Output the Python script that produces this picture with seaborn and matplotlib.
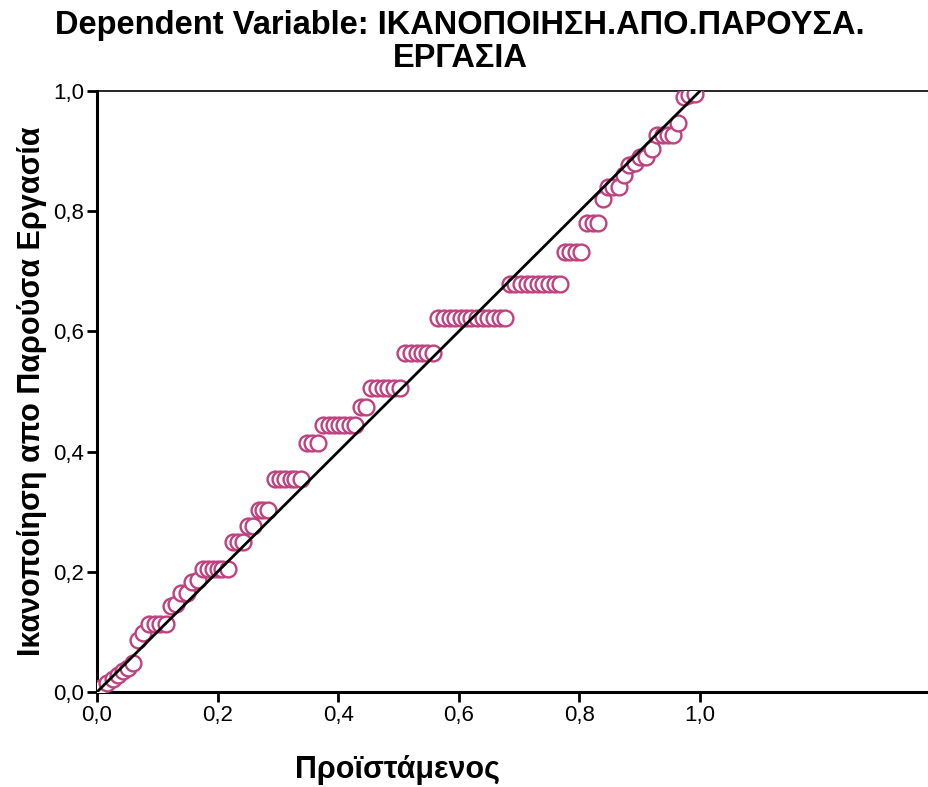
import matplotlib
matplotlib.use("Agg")
import matplotlib.pyplot as plt
import seaborn as sns
import pandas as pd

# Observed cumulative probability (x) and expected cumulative probability (y)
obs_cum_prob = [
    0.005, 0.017, 0.027, 0.035, 0.043, 0.051, 0.060,
    0.068, 0.077,
    0.087, 0.096, 0.105, 0.115,
    0.123, 0.131,
    0.140, 0.149,
    0.158, 0.167,
    0.175, 0.184, 0.192, 0.200, 0.208, 0.217,
    0.226, 0.234, 0.242,
    0.251, 0.259,
    0.268, 0.276, 0.284,
    0.295, 0.304, 0.312, 0.321, 0.329, 0.338,
    0.348, 0.357, 0.366,
    0.375, 0.384, 0.393, 0.401, 0.410, 0.419, 0.428,
    0.437, 0.446,
    0.455, 0.464, 0.474, 0.483, 0.493, 0.502,
    0.511, 0.520, 0.530, 0.539, 0.548, 0.558,
    0.566, 0.575, 0.585, 0.594, 0.603, 0.612, 0.621, 0.631, 0.640, 0.649, 0.658, 0.668, 0.677,
    0.685, 0.694, 0.703, 0.713, 0.722, 0.731, 0.740, 0.750, 0.759, 0.768,
    0.776, 0.785, 0.794, 0.803,
    0.813, 0.822, 0.831,
    0.839,
    0.848, 0.856, 0.865,
    0.874,
    0.883,
    0.892, 0.901, 0.910,
    0.920,
    0.929, 0.938, 0.947, 0.956,
    0.964,
    0.973, 0.982, 0.991,
]
exp_cum_prob = [
    0.007, 0.015, 0.022, 0.028, 0.035, 0.040, 0.048,
    0.087, 0.098,
    0.113, 0.113, 0.113, 0.113,
    0.143, 0.146,
    0.165, 0.165,
    0.183, 0.186,
    0.204, 0.204, 0.204, 0.204, 0.204, 0.204,
    0.250, 0.250, 0.250,
    0.276, 0.276,
    0.303, 0.303, 0.303,
    0.355, 0.355, 0.355, 0.355, 0.355, 0.355,
    0.414, 0.414, 0.414,
    0.444, 0.444, 0.444, 0.444, 0.444, 0.444, 0.444,
    0.474, 0.474,
    0.506, 0.506, 0.506, 0.506, 0.506, 0.506,
    0.564, 0.564, 0.564, 0.564, 0.564, 0.564,
    0.622, 0.622, 0.622, 0.622, 0.622, 0.622, 0.622, 0.622, 0.622, 0.622, 0.622, 0.622, 0.622,
    0.679, 0.679, 0.679, 0.679, 0.679, 0.679, 0.679, 0.679, 0.679, 0.679,
    0.732, 0.732, 0.732, 0.732,
    0.780, 0.780, 0.780,
    0.821,
    0.841, 0.841, 0.841,
    0.860,
    0.877,
    0.880, 0.890, 0.890,
    0.904,
    0.927, 0.927, 0.927, 0.927,
    0.947,
    0.990, 0.993, 0.995,
]

ref_x = [0.0, 1.0]
ref_y = [0.0, 1.0]
tick_vals = [0.0, 0.2, 0.4, 0.6, 0.8, 1.0]
tick_labels = ["0,0", "0,2", "0,4", "0,6", "0,8", "1,0"]

title = "Dependent Variable: ΙΚΑΝΟΠΟΙΗΣΗ.ΑΠΟ.ΠΑΡΟΥΣΑ.\nΕΡΓΑΣΙΑ"
xlabel = "Προϊστάμενος"
ylabel = "Ικανοποίηση απο Παρούσα Εργασία"

sns.set_theme(style="white")
plt.rcParams["font.family"] = ["Liberation Sans", "DejaVu Sans"]
plt.rcParams["text.color"] = "black"

df = pd.DataFrame({"x": obs_cum_prob, "y": exp_cum_prob})

fig = plt.figure(figsize=(9.29, 7.87), dpi=100)
ax = fig.add_axes([97 / 929, 95 / 787, 832 / 929, 601 / 787])

sns.scatterplot(data=df, x="x", y="y", ax=ax, marker="o", s=130,
                facecolor="white", edgecolor="#C0417F", linewidth=1.7, zorder=3)
ax.plot(ref_x, ref_y, color="black", lw=2.0, zorder=4)

ax.set_xlim(0, 832 / 603)
ax.set_ylim(0, 1.0)
ax.set_xticks(tick_vals)
ax.set_xticklabels(tick_labels)
ax.set_yticks(tick_vals)
ax.set_yticklabels(tick_labels)
ax.tick_params(axis="both", which="major", direction="out", length=7, width=2,
               labelsize=16, color="black", labelcolor="black", pad=2,
               bottom=True, left=True)

for side in ["left", "bottom"]:
    ax.spines[side].set_color("black")
    ax.spines[side].set_linewidth(2.2)
ax.spines["top"].set_color("black")
ax.spines["top"].set_linewidth(1.2)
ax.spines["right"].set_visible(False)

ax.set_xlabel("")
ax.set_ylabel("")
fig.text(398 / 929, 1 - 770 / 787, xlabel, ha="center", va="center",
         fontsize=22, fontweight="bold", color="black")
fig.text(32 / 929, 1 - 391 / 787, ylabel, ha="center", va="center",
         rotation=90, fontsize=22, fontweight="bold", color="black")
fig.text(460 / 929, 1 - 42 / 787, title, ha="center", va="center",
         fontsize=23.5, fontweight="bold", linespacing=1.05, color="black")

fig.savefig("out.png", dpi=100)
